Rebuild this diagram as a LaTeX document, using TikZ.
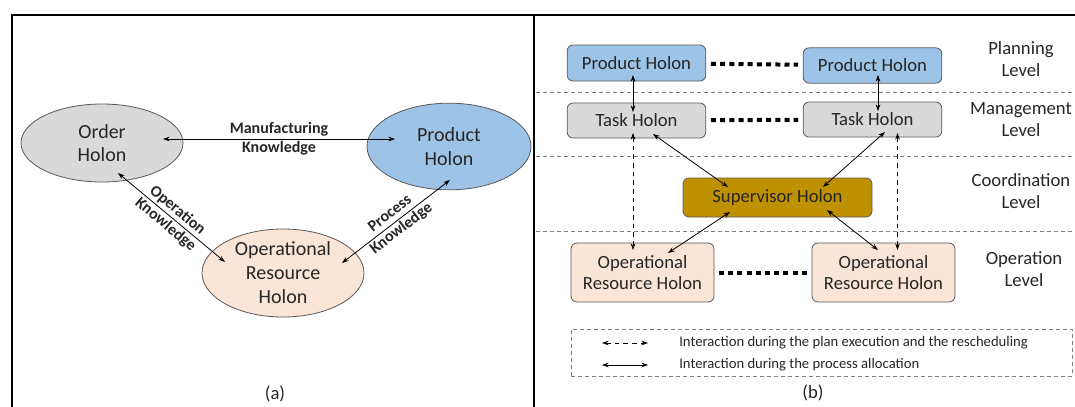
\documentclass[tikz,border=0pt]{standalone}
\usepackage{fontspec}
\setmainfont{Carlito}
\usetikzlibrary{shapes.geometric, arrows.meta, calc}

\definecolor{holongray}{HTML}{D9D9D9}
\definecolor{holonblue}{HTML}{9DC3E6}
\definecolor{holonpeach}{HTML}{FBE5D6}
\definecolor{holongold}{HTML}{BF9000}
\definecolor{edgegray}{HTML}{595959}
\definecolor{textgray}{HTML}{262626}

\begin{document}
\begin{tikzpicture}[x=0.75pt, y=-0.75pt,
    holon/.style={ellipse, draw=edgegray, line width=0.6pt, align=center, text=textgray, font=\fontsize{15}{17.5}\selectfont, inner sep=0pt},
    box/.style={rectangle, rounded corners=4.5pt, draw=edgegray, line width=0.6pt, align=center, text=textgray, font=\fontsize{14}{16}\selectfont, inner sep=0pt},
    link/.style={black, line width=0.6pt, >={Stealth[length=5pt,width=3.5pt]}, <->},
    dlink/.style={link, dash pattern=on 3.5pt off 3pt},
    dots/.style={line width=3pt, dash pattern=on 3.75pt off 3.15pt, shorten <=3.5pt, shorten >=3.5pt},
    sep/.style={draw=gray, line width=0.5pt, dash pattern=on 3pt off 2.25pt},
    lvl/.style={align=center, text=textgray, font=\fontsize{14}{16.5}\selectfont},
    know/.style={align=center, sloped, text=textgray, font=\bfseries\fontsize{12}{14}\selectfont}]

    \useasboundingbox (0,0) rectangle (1075,407);

    % frames
    \draw[line width=1.5pt] (12,407) -- (12,15) -- (1075,15);
    \draw[line width=1.5pt] (534,15) -- (534,407);

    % (a)
    \node[holon, fill=holongray, minimum width=121.5pt, minimum height=58.5pt] (order) at (102,143) {Order\\Holon};
    \node[holon, fill=holonblue, minimum width=123pt, minimum height=65pt] (product) at (449,146.5) {Product\\Holon};
    \node[holon, fill=holonpeach, minimum width=121.5pt, minimum height=66pt, font=\fontsize{15}{18}\selectfont] (resource) at (283,273) {Operational\\Resource\\Holon};

    \draw[link] ($(order)+(61,-4)$) -- node[know] {Manufacturing\\Knowledge} ($(product)+(-54,-7.5)$);
    \draw[link] ($(order)+(16,30)$) -- node[know] {Operation\\Knowledge} ($(resource)+(-58,-11)$);
    \draw[link] ($(product)+(1,33.5)$) -- node[know] {Process\\Knowledge} ($(resource)+(59,-10)$);

    \node[lvl] (capa) at (275,394) {(a)};

    % (b)
    \foreach \y in {92,156,231}
        \draw[sep] (536,\y) -- (1075,\y);

    \node[box, fill=holonblue, minimum width=104pt, minimum height=27pt] (prodA) at (636.5,63) {Product Holon};
    \node[box, fill=holonblue, minimum width=104pt, minimum height=26.5pt] (prodB) at (872.5,65.5) {Product Holon};
    \node[box, fill=holongray, minimum width=104pt, minimum height=26.25pt] (taskA) at (636.5,120.5) {Task Holon};
    \node[box, fill=holongray, minimum width=104pt, minimum height=26.25pt] (taskB) at (872.5,119.5) {Task Holon};
    \node[box, fill=holongold, minimum width=141.75pt, minimum height=29.25pt] (super) at (777.5,197.5) {Supervisor Holon};
    \node[box, fill=holonpeach, minimum width=107.25pt, minimum height=44.25pt] (resA) at (642.5,272.5) {Operational\\Resource Holon};
    \node[box, fill=holonpeach, minimum width=107.25pt, minimum height=44.25pt] (resB) at (883.5,272.5) {Operational\\Resource Holon};

    \draw[dots] (prodA) -- (prodB);
    \draw[dots] (taskA) -- (taskB);
    \draw[dots] (resA) -- (resB);

    \node[lvl] (plan) at (1021,59) {Planning\\Level};
    \node[lvl] (manage) at (1021,120) {Management\\Level};
    \node[lvl] (coord) at (1021,191) {Coordination\\Level};
    \node[lvl] (operate) at (1024,269) {Operation\\Level};

    \draw[link] ($(prodA)+(-3.5,12)$) -- ($(taskA)+(-3.5,-8.5)$);
    \draw[link] ($(prodB)+(5.5,9.5)$) -- ($(taskB)+(5.5,-8.5)$);
    \draw[link] ($(taskA)+(16.5,13.5)$) -- ($(super)+(-49.5,-10.5)$);
    \draw[link] ($(taskB)+(12.5,12.5)$) -- ($(super)+(45.5,-10.5)$);
    \draw[link] ($(super)+(-47.5,14.5)$) -- ($(resA)+(25.5,-19.5)$);
    \draw[link] ($(super)+(49.5,12.5)$) -- ($(resB)+(-5.5,-22.5)$);
    \draw[dlink] ($(taskA)+(-3.5,12.5)$) -- ($(resA)+(-9.5,-22.5)$);
    \draw[dlink] ($(taskB)+(25,13.5)$) -- ($(resB)+(14,-22.5)$);

    % legend
    \node[draw=gray, dash pattern=on 3pt off 2.25pt, line width=0.5pt, minimum width=375.75pt, minimum height=35.25pt, inner sep=0pt] (legend) at (821.5,352.5) {};
    \coordinate (dashL) at (602,343);
    \coordinate (dashR) at (648,343);
    \coordinate (solidL) at (602,365);
    \coordinate (solidR) at (648,365);
    \draw[dlink] (dashL) -- (dashR);
    \draw[link] (solidL) -- (solidR);
    \node[anchor=west, inner sep=0pt, text=textgray, font=\fontsize{11}{13}\selectfont] (keyplan) at (679,343) {Interaction during the plan execution and the rescheduling};
    \node[anchor=west, inner sep=0pt, text=textgray, font=\fontsize{11}{13}\selectfont] (keyalloc) at (679,365) {Interaction during the process allocation};

    \node[lvl] (capb) at (813,393) {(b)};

\end{tikzpicture}
\end{document}
